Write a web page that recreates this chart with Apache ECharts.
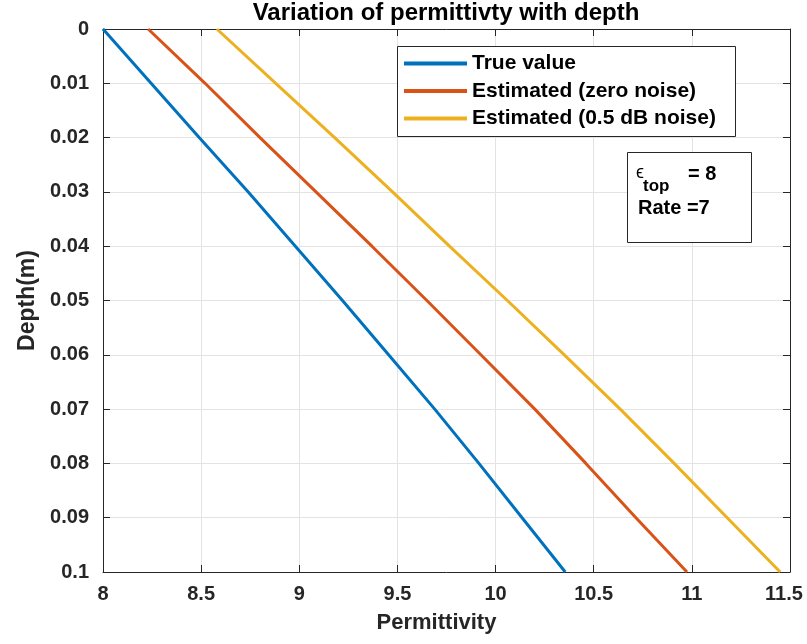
<!DOCTYPE html>
<html>
<head>
<meta charset="utf-8">
<script src="https://cdn.jsdelivr.net/npm/echarts@6/dist/echarts.min.js"></script>
<style>
  html, body { margin: 0; padding: 0; background: #ffffff; }
  #chart { width: 807px; height: 644px; }
</style>
</head>
<body>
<div id="chart"></div>
<script>
// ---- data ----
const depth = [0, 0.01, 0.02, 0.03, 0.04, 0.05, 0.06, 0.07, 0.08, 0.09, 0.1];
const trueValue = [8.00, 8.245, 8.49, 8.74, 8.98, 9.22, 9.455, 9.69, 9.915, 10.135, 10.355];
const estZeroNoise = [8.23, 8.52, 8.80, 9.085, 9.37, 9.65, 9.925, 10.20, 10.46, 10.715, 10.975];
const estNoise = [8.58, 8.88, 9.18, 9.475, 9.765, 10.06, 10.35, 10.635, 10.91, 11.18, 11.45];
const seriesNames = ['True value', 'Estimated (zero noise)', 'Estimated (0.5 dB noise)'];
const seriesColors = ['#0072BD', '#D95319', '#EDB120'];
const titleText = 'Variation of permittivty with depth';
const xName = 'Permittivity';
const yName = 'Depth(m)';

// ---- chart ----
const FONT = '"Liberation Sans", Arial, Helvetica, sans-serif';
const AX = '#262626';
const chart = echarts.init(document.getElementById('chart'), null, { renderer: 'canvas' });

function pairs(vals) { return vals.map((v, i) => [v, depth[i]]); }

const xBase = {
  type: 'value', min: 8, max: 11.5, interval: 0.5,
  axisLine: { show: true, onZero: false, lineStyle: { color: AX, width: 1 } },
  axisTick: { show: true, inside: true, length: 7, lineStyle: { color: AX } },
};
const yBase = {
  type: 'value', min: 0, max: 0.1, interval: 0.01, inverse: true,
  axisLine: { show: true, onZero: false, lineStyle: { color: AX, width: 1 } },
  axisTick: { show: true, inside: true, length: 7, lineStyle: { color: AX } },
};

const option = {
  backgroundColor: '#ffffff',
  animation: false,
  title: {
    text: titleText, left: 446, top: 1, textAlign: 'center', padding: 0,
    textStyle: { fontFamily: FONT, fontWeight: 'bold', fontSize: 24, color: '#000000' }
  },
  grid: { left: 103, right: 17, top: 29, bottom: 72, containLabel: false, outerBoundsMode: 'none' },
  legend: {
    left: 404, top: 53, orient: 'vertical', padding: 0,
    itemWidth: 63, itemHeight: 4, itemGap: 6.5, icon: 'rect',
    data: seriesNames.map((n, i) => ({ name: n, icon: 'rect', itemStyle: { color: seriesColors[i] } })),
    textStyle: { fontFamily: FONT, fontWeight: 'bold', fontSize: 21, color: '#000000' }
  },
  xAxis: [
    Object.assign({}, xBase, {
      position: 'bottom',
      name: xName, nameLocation: 'middle', nameGap: 40,
      nameTextStyle: { fontFamily: FONT, fontWeight: 'bold', fontSize: 22, color: AX, padding: [0, 20, 0, 0] },
      axisLabel: { margin: 12, fontFamily: FONT, fontWeight: 'bold', fontSize: 20, color: AX,
                   formatter: v => (v >= 11.5 ? '{last|' + String(+v.toFixed(2)) + '}' : String(+v.toFixed(2))),
                   rich: { last: { fontFamily: FONT, fontWeight: 'bold', fontSize: 20, color: AX, padding: [0, 12, 0, 0] } } },
      splitLine: { show: true, lineStyle: { color: '#e3e3e3', width: 1 } }
    }),
    Object.assign({}, xBase, {
      position: 'top', axisLabel: { show: false }, splitLine: { show: false }
    })
  ],
  yAxis: [
    Object.assign({}, yBase, {
      position: 'left',
      name: yName, nameLocation: 'middle', nameGap: 64, nameRotate: 90,
      nameTextStyle: { fontFamily: FONT, fontWeight: 'bold', fontSize: 23, color: AX },
      axisLabel: { margin: 14, fontFamily: FONT, fontWeight: 'bold', fontSize: 20, color: AX,
                   formatter: v => String(+v.toFixed(2)) },
      splitLine: { show: true, lineStyle: { color: '#e3e3e3', width: 1 } }
    }),
    Object.assign({}, yBase, {
      position: 'right', axisLabel: { show: false }, splitLine: { show: false }
    })
  ],
  series: [trueValue, estZeroNoise, estNoise].map((vals, i) => ({
    name: seriesNames[i], type: 'line', xAxisIndex: 0, yAxisIndex: 0,
    data: pairs(vals), symbol: 'none', showSymbol: false,
    lineStyle: { color: seriesColors[i], width: 3 },
    itemStyle: { color: seriesColors[i] },
    z: 3 + i
  })),
  graphic: [
    { type: 'rect', left: 397, top: 46, z: 1,
      shape: { width: 338, height: 90 },
      style: { fill: '#ffffff', stroke: AX, lineWidth: 1 } },
    { type: 'rect', left: 627, top: 152, z: 1,
      shape: { width: 124, height: 90 },
      style: { fill: '#ffffff', stroke: AX, lineWidth: 1 } },
    { type: 'text', left: 636, top: 164, z: 2,
      style: { text: 'ϵ', fontFamily: FONT, fontSize: 18, fill: '#000000' } },
    { type: 'text', left: 643, top: 178, z: 2,
      style: { text: 'top', fontFamily: FONT, fontWeight: 'bold', fontSize: 17, fill: '#000000' } },
    { type: 'text', left: 688, top: 164, z: 2,
      style: { text: '= 8', fontFamily: FONT, fontWeight: 'bold', fontSize: 20, fill: '#000000' } },
    { type: 'text', left: 638, top: 198, z: 2,
      style: { text: 'Rate =7', fontFamily: FONT, fontWeight: 'bold', fontSize: 20, fill: '#000000' } }
  ]
};
chart.setOption(option);
</script>
</body>
</html>
